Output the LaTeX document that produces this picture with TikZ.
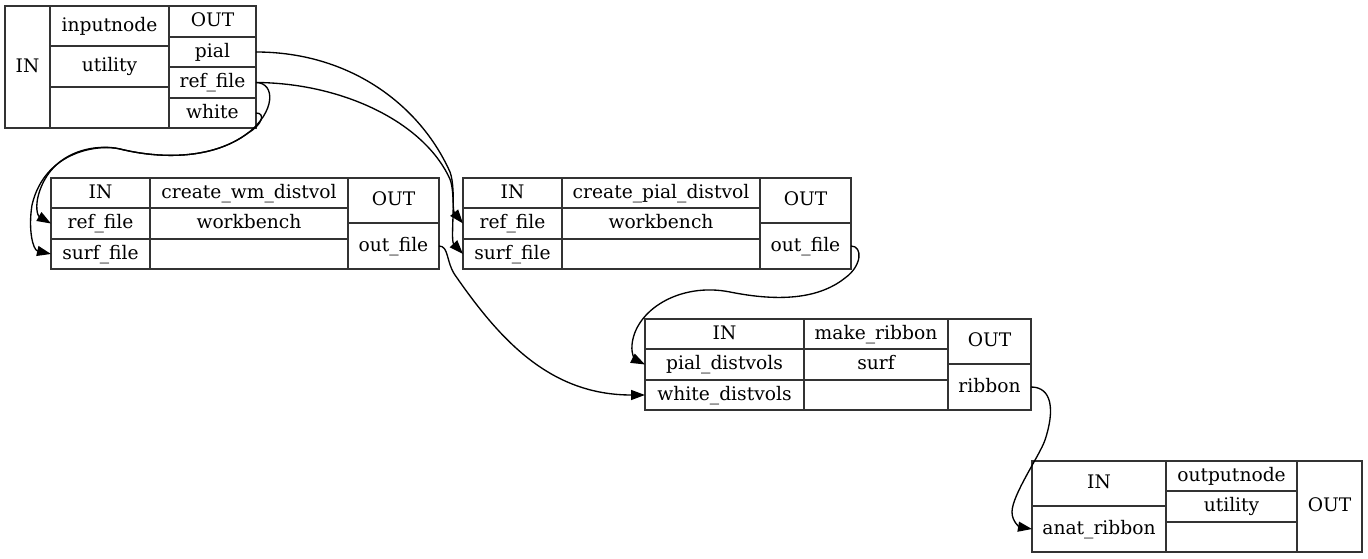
\documentclass[tikz,border=0pt]{standalone}
\usepackage{fontspec}
\setmainfont{DejaVu Serif}
\usetikzlibrary{arrows.meta}

\begin{document}
\begin{tikzpicture}[x=0.75pt, y=-0.75pt,
    cell/.style 2 args={draw=black!80, line width=0.9pt, anchor=north west, inner sep=0pt, outer sep=0pt,
        minimum width=#1*0.75pt, minimum height=#2*0.75pt,
        text height=1.8ex, text depth=0.3ex, font=\fontsize{14}{16}\selectfont},
    flecha/.style={line width=1pt, -{Triangle[length=10.5pt, width=7.5pt]}}]

\useasboundingbox (0,0) rectangle (1368,559);

% Nodo inputnode
\node[cell={45}{122}] (n1in) at (5,6) {IN};
\node[cell={119}{40}] (n1name) at (50,6) {inputnode};
\node[cell={119}{41}] (n1type) at (50,46) {utility};
\node[cell={119}{41}] (n1blank) at (50,87) {};
\node[cell={87}{31}] (n1out) at (169,6) {OUT};
\node[cell={87}{30}] (n1pial) at (169,37) {pial};
\node[cell={87}{31}] (n1ref) at (169,67) {ref\_file};
\node[cell={87}{30}] (n1white) at (169,98) {white};

% Nodo create_wm_distvol
\node[cell={99}{30}] (wmin) at (51,178) {IN};
\node[cell={99}{31}] (wmref) at (51,208) {ref\_file};
\node[cell={99}{30}] (wmsurf) at (51,239) {surf\_file};
\node[cell={198}{30}] (wmname) at (150,178) {create\_wm\_distvol};
\node[cell={198}{31}] (wmtype) at (150,208) {workbench};
\node[cell={198}{30}] (wmblank) at (150,239) {};
\node[cell={91}{45}] (wmout) at (348,178) {OUT};
\node[cell={91}{46}] (wmfile) at (348,223) {out\_file};

% Nodo create_pial_distvol
\node[cell={99}{30}] (pin) at (463,178) {IN};
\node[cell={99}{31}] (pref) at (463,208) {ref\_file};
\node[cell={99}{30}] (psurf) at (463,239) {surf\_file};
\node[cell={198}{30}] (pname) at (562,178) {create\_pial\_distvol};
\node[cell={198}{31}] (ptype) at (562,208) {workbench};
\node[cell={198}{30}] (pblank) at (562,239) {};
\node[cell={91}{45}] (pout) at (760,178) {OUT};
\node[cell={91}{46}] (pfile) at (760,223) {out\_file};

% Nodo make_ribbon
\node[cell={159}{30}] (rin) at (645,319) {IN};
\node[cell={159}{31}] (rpial) at (645,349) {pial\_distvols};
\node[cell={159}{30}] (rwhite) at (645,380) {white\_distvols};
\node[cell={144}{30}] (rname) at (804,319) {make\_ribbon};
\node[cell={144}{31}] (rtype) at (804,349) {surf};
\node[cell={144}{30}] (rblank) at (804,380) {};
\node[cell={83}{45}] (rout) at (948,319) {OUT};
\node[cell={83}{46}] (rribbon) at (948,364) {ribbon};

% Nodo outputnode
\node[cell={134}{45}] (n5in) at (1032,461) {IN};
\node[cell={134}{46}] (n5anat) at (1032,506) {anat\_ribbon};
\node[cell={131}{30}] (n5name) at (1166,461) {outputnode};
\node[cell={131}{31}] (n5type) at (1166,491) {utility};
\node[cell={131}{30}] (n5blank) at (1166,522) {};
\node[cell={65}{91}] (n5out) at (1297,461) {OUT};

% Conexiones desde inputnode hacia create_wm_distvol
\draw[flecha] (n1ref.east) .. controls (276,83) and (275,112) .. (248,133)
    .. controls (215,158) and (165,160) .. (120,149)
    .. controls (100,144) and (55,148) .. (40,190)
    .. controls (34,207) and (38,216) .. (wmref.west);
\draw[flecha] (n1white.east) .. controls (266,113) and (262,125) .. (248,133)
    .. controls (215,158) and (165,160) .. (120,149)
    .. controls (100,144) and (45,150) .. (32,205)
    .. controls (28,230) and (33,250) .. (wmsurf.west);

% Conexiones desde inputnode hacia create_pial_distvol
\draw[flecha] (n1ref.east) .. controls (340,83) and (420,120) .. (448,175)
    .. controls (455,186) and (452,210) .. (pref.west);
\draw[flecha] (n1pial.east) .. controls (350,52) and (420,105) .. (450,172)
    .. controls (457,190) and (450,240) .. (psurf.west);

% Salidas hacia make_ribbon
\draw[flecha] (wmfile.east) .. controls (449,246) and (446,262) .. (455,275)
    .. controls (500,340) and (550,395) .. (rwhite.west);
\draw[flecha] (pfile.east) .. controls (863,246) and (862,266) .. (845,278)
    .. controls (815,302) and (770,300) .. (730,292)
    .. controls (680,282) and (635,310) .. (632,345)
    .. controls (631,355) and (636,360) .. (rpial.west);

% Salida hacia outputnode
\draw[flecha] (rribbon.east) .. controls (1052,387) and (1055,410) .. (1045,440)
    .. controls (1040,455) and (1012,495) .. (1012,512)
    .. controls (1012,522) and (1020,527) .. (n5anat.west);

\end{tikzpicture}
\end{document}
